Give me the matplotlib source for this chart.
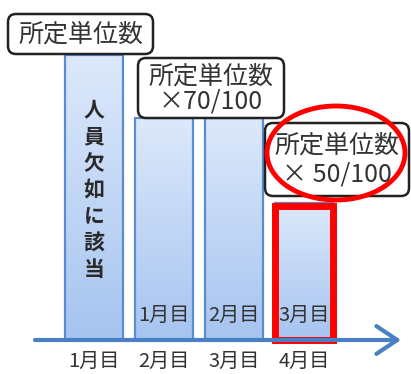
import numpy as np
import matplotlib
matplotlib.use("Agg")
import matplotlib.pyplot as plt
from matplotlib.patches import FancyBboxPatch, Ellipse, Rectangle
from matplotlib.transforms import Affine2D
from matplotlib.colors import LinearSegmentedColormap

plt.rcParams['font.family'] = ['Noto Sans CJK JP', 'DejaVu Sans']

# data
months = ["1月目", "2月目", "3月目", "4月目"]
heights = [100, 78, 78, 48]
inner_labels = ["", "1月目", "2月目", "3月目"]
bar1_text = "人員欠如に該当"
box_texts = ["所定単位数", "所定単位数\n×70/100", "所定単位数\n× 50/100"]

W, H = 411, 374
fig = plt.figure(figsize=(W / 100, H / 100), dpi=100)
ax = fig.add_axes([0, 0, 1, 1])
ax.set_axis_off()
sy = (340 - 55) / 100
XL = (-94 / 70, (W - 94) / 70)
YL = (-(H - 340) / sy, 100 + 55 / sy)

# pixel transform (origin top-left)
px = Affine2D().scale(1 / W, -1 / H).translate(0, 1) + fig.transFigure

x = np.arange(len(months))
bw = 0.84
bars = ax.bar(x, heights, width=bw, color='none', edgecolor='#5b8bd0', linewidth=1.6, zorder=2)
cmap = LinearSegmentedColormap.from_list('g', ['#a6c4f0', '#dde9fb'])
grad = np.linspace(0, 1, 256).reshape(-1, 1)
for b in bars:
    x0, y0 = b.get_x(), b.get_y()
    im = ax.imshow(grad, cmap=cmap, origin='lower', aspect='auto',
                   extent=[x0, x0 + b.get_width(), y0, y0 + b.get_height()], zorder=1)
    im.set_clip_path(b)
ax.set_xlim(*XL)
ax.set_ylim(*YL)

# vertical text on bar 1
ax.text(0, (340 - 190) / sy, "\n".join(bar1_text), ha='center', va='center', fontsize=15,
        fontweight='bold', color='#2a2a2a', linespacing=1.33, zorder=3)

# inner labels
for i, lab in enumerate(inner_labels):
    if lab:
        ax.text(i, 8.5, lab, ha='center', va='center', fontsize=14.5, color='#333333', zorder=3)

# bottom labels
for i, lab in enumerate(months):
    ax.text(i, -7.5, lab, ha='center', va='center', fontsize=14.5, color='#333333')

# red highlight rectangle around bar 4
b4 = bars[3]
ax.add_patch(Rectangle((b4.get_x(), 0), b4.get_width(), b4.get_height() - 1.0,
                       fill=False, edgecolor='#ff0000', linewidth=5, zorder=4))

# arrow axis
ax.annotate("", xy=(401, 340), xytext=(35, 340), xycoords=px, textcoords=px,
            arrowprops=dict(arrowstyle='->,head_length=1.5,head_width=1.0',
                            color='#4a7fc4', lw=3, shrinkA=0, shrinkB=0), zorder=5)

# boxes (pixel coords: x0, y0, x1, y1)
boxes = [(8, 14, 153, 54), (138, 58, 284, 118), (265, 123, 409, 196)]
spacing = [1.0, 0.95, 1.15]
for (x0, y0, x1, y1), t, ls in zip(boxes, box_texts, spacing):
    p = FancyBboxPatch((x0, y0), x1 - x0, y1 - y0,
                       boxstyle="round,pad=0,rounding_size=8", transform=px,
                       facecolor='white', edgecolor='#222222', linewidth=1.8, zorder=6)
    ax.add_patch(p)
    ax.text((x0 + x1) / 2, (y0 + y1) / 2 + 1, t, transform=px, ha='center', va='center',
            fontsize=18, color='#333333', linespacing=ls, zorder=7)

# red ellipse
ax.add_patch(Ellipse((336, 153), 138, 94, transform=px, fill=False,
                     edgecolor='#ff0000', linewidth=3.5, zorder=8))

fig.savefig("out.png", dpi=100)
